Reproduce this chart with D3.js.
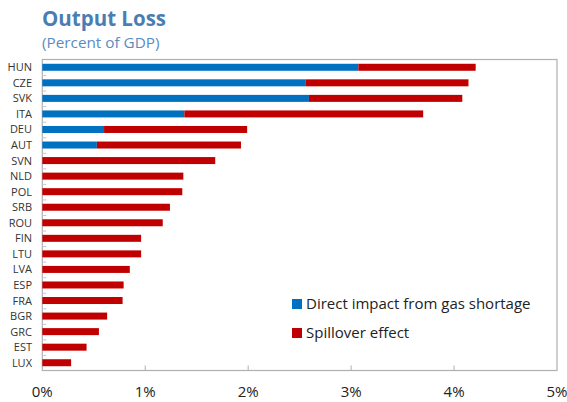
<!DOCTYPE html>
<html><head><meta charset="utf-8">
<script src="https://cdn.jsdelivr.net/npm/d3@7"></script>
<style>body{margin:0;background:#fff}svg{display:block}</style>
</head><body>
<svg id="c" width="567" height="402"></svg>
<script>
const categories = ["HUN","CZE","SVK","ITA","DEU","AUT","SVN","NLD","POL","SRB","ROU","FIN","LTU","LVA","ESP","FRA","BGR","GRC","EST","LUX"];
const directImpact = [3.07,2.56,2.59,1.38,0.60,0.53,0,0,0,0,0,0,0,0,0,0,0,0,0,0];
const spillover    = [1.14,1.58,1.49,2.32,1.39,1.40,1.68,1.37,1.36,1.24,1.17,0.96,0.96,0.85,0.79,0.78,0.63,0.55,0.43,0.28];
const xTicks = [0,1,2,3,4,5];
const seriesNames = ["Direct impact from gas shortage","Spillover effect"];
const colors = ["#0070c0","#c00000"];

const svg = d3.select("#c");
const font = "'Open Sans', 'Noto Sans', sans-serif";
const m = {l:42.3, r:557, t:59.5, b:370.5};
const x = d3.scaleLinear().domain([0,5]).range([m.l, m.r]);
const y = d3.scaleBand().domain(categories).range([m.t, m.b]).paddingInner(0).paddingOuter(0);
const barH = 7;

// title
svg.append("text").attr("x",42).attr("y",26).attr("font-family",font).attr("font-weight","bold")
  .attr("font-size",20.5).attr("fill","#4a7eb3").text("Output Loss");
svg.append("text").attr("x",42).attr("y",48).attr("font-family",font)
  .attr("font-size",15.3).attr("fill","#5b8cc0").text("(Percent of GDP)");

// frame
svg.append("rect").attr("x",m.l).attr("y",m.t).attr("width",m.r-m.l).attr("height",m.b-m.t)
  .attr("fill","none").attr("stroke","#b0b0b0").attr("stroke-width",1.2);

// bars
const rows = categories.map((c,i)=>({c, d:directImpact[i], s:spillover[i]}));
const g = svg.append("g");
rows.forEach(r=>{
  const yc = y(r.c) + y.bandwidth()/2 - barH/2;
  if (r.d>0) g.append("rect").attr("x",x(0)).attr("y",yc).attr("width",x(r.d)-x(0)).attr("height",barH).attr("fill",colors[0]);
  g.append("rect").attr("x",x(r.d)).attr("y",yc).attr("width",x(r.d+r.s)-x(r.d)).attr("height",barH).attr("fill",colors[1]);
});

// y ticks (inside, between categories)
categories.slice(1).forEach(c=>{
  svg.append("line").attr("x1",m.l).attr("x2",m.l+4).attr("y1",y(c)+0.5).attr("y2",y(c)+0.5)
    .attr("stroke","#c8c8c8").attr("stroke-width",1);
});
// y labels
svg.append("g").selectAll("text").data(categories).join("text")
  .attr("x",32).attr("y",d=>y(d)+y.bandwidth()/2+4).attr("text-anchor","end")
  .attr("font-family",font).attr("font-size",11).attr("fill","#333").text(d=>d);

// x ticks inside
xTicks.slice(1,-1).forEach(t=>{
  svg.append("line").attr("x1",x(t)).attr("x2",x(t)).attr("y1",m.b).attr("y2",m.b-5)
    .attr("stroke","#b0b0b0").attr("stroke-width",1);
});
svg.append("g").selectAll("text").data(xTicks).join("text")
  .attr("x",d=>x(d)).attr("y",397).attr("text-anchor","middle")
  .attr("font-family",font).attr("font-size",15).attr("fill","#222").text(d=>d+"%");

// legend
seriesNames.forEach((n,i)=>{
  const ly = 299 + i*29;
  svg.append("rect").attr("x",292).attr("y",ly).attr("width",10).attr("height",10).attr("fill",colors[i]);
  svg.append("text").attr("x",306).attr("y",ly+10).attr("font-family",font).attr("font-size",15)
    .attr("fill","#222").text(n);
});
</script>
</body></html>
